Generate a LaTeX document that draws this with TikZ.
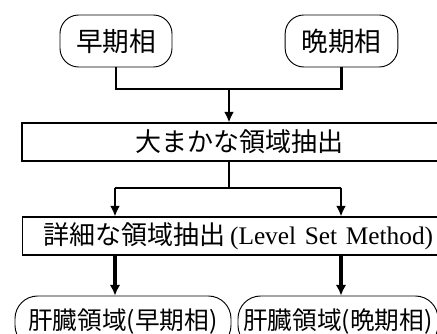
\documentclass[tikz,border=0pt]{standalone}
\usepackage{fontspec}
\setmainfont{Liberation Serif}
\newfontfamily\jp{Noto Sans CJK JP}
\usetikzlibrary{arrows.meta}
\begin{document}
\begin{tikzpicture}[x=0.75pt,y=-0.75pt,
  pill/.style={draw, line width=0.7pt, rounded corners=14pt, inner sep=0pt,
               minimum height=39pt, font=\jp\fontsize{20pt}{23pt}\selectfont},
  endpill/.style={draw, line width=0.7pt, rounded corners=17pt, inner sep=0pt,
               minimum height=39pt, font=\jp\fontsize{18.5pt}{22pt}\selectfont},
  box/.style={draw, line width=0.8pt, inner ysep=0pt, minimum height=28.5pt,
              font=\jp\fontsize{19.5pt}{22pt}\selectfont},
  conn/.style={line width=1.6pt},
  arr/.style={line width=1.6pt, -{Latex[length=8pt,width=7.5pt]}},
  barr/.style={line width=2.6pt, -{Latex[length=8pt,width=8pt]}}]
\useasboundingbox (0,0) rectangle (437,334);
\clip (0,0) rectangle (437,334);

\node[pill, minimum width=84pt] (early) at (116,41) {早期相};
\node[pill, minimum width=84.5pt] (late) at (341.5,41) {晩期相};

\node[box, inner xsep=0pt, minimum width=327pt] (rough) at (240,142) {大まかな領域抽出};
\node[box, anchor=west, inner xsep=16pt, text width=310pt, align=left] (fine) at (22,236)
  {詳細な領域抽出{\rmfamily\fontsize{19pt}{23pt}\selectfont\,(Level Set Method)}};

\node[endpill, minimum width=162pt] (liverE) at (123,322) {肝臓領域(早期相)};
\node[endpill, minimum width=150pt] (liverL) at (338,322) {肝臓領域(晩期相)};

\coordinate (j1) at (229,89);
\coordinate (j2) at (229,188);
\coordinate (l2) at (115,188);
\coordinate (r2) at (341,188);

\draw[conn] (early.south) |- (j1) -| (late.south);
\draw[arr] (j1) -- (j1 |- rough.north);
\draw[conn] (j2 |- rough.south) -- (j2);
\draw[conn] (l2) -- (r2);
\draw[arr] (l2) -- (l2 |- fine.north);
\draw[arr] (r2) -- (r2 |- fine.north);
\draw[barr] (l2 |- fine.south) -- (l2 |- liverE.north);
\draw[barr] (r2 |- fine.south) -- (r2 |- liverL.north);
\end{tikzpicture}
\end{document}
